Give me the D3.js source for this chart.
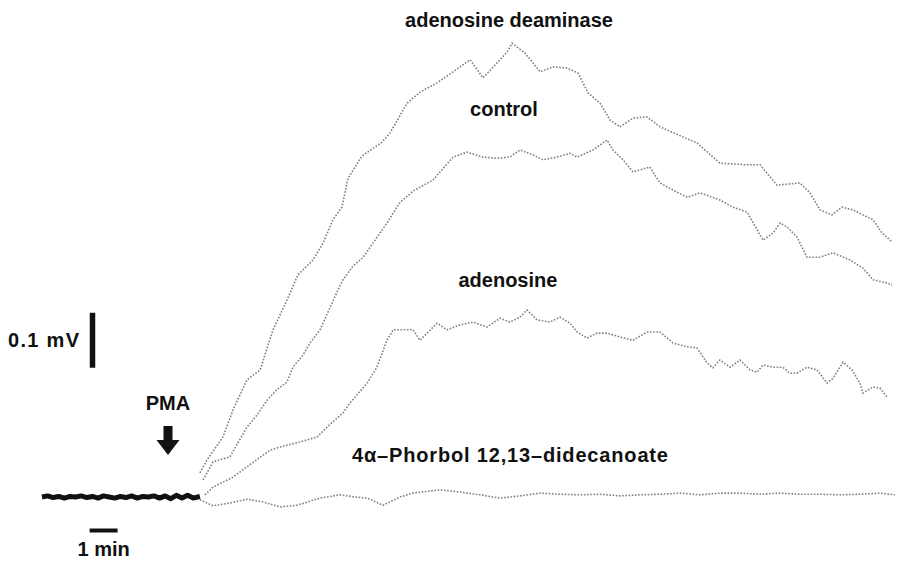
<!DOCTYPE html>
<html>
<head>
<meta charset="utf-8">
<script src="https://cdn.jsdelivr.net/npm/d3@7"></script>
<style>
  body { margin: 0; background: #fff; }
  svg { display: block; }
</style>
</head>
<body>
<script>
// time in min (0 = start of recording), response in mV above baseline
const baseline = [[0, 0], [0.2, 0.002], [0.4, -0.001], [0.6, 0.001], [0.8, -0.002], [1.0, 0.001], [1.2, 0],
  [1.4, 0.002], [1.6, -0.001], [1.8, 0.001], [2.0, -0.002], [2.2, 0.002], [2.4, 0], [2.6, -0.002], [2.8, 0.001],
  [3.0, -0.001], [3.2, 0.002], [3.4, -0.002], [3.6, 0.001], [3.8, 0], [4.0, 0.002], [4.2, -0.002], [4.4, 0.002],
  [4.6, -0.003], [4.8, 0.003], [5.0, -0.002], [5.2, 0.003], [5.4, -0.002], [5.64, 0.001]];

const deaminase = [[5.64, 0.044], [5.89, 0.067], [6.46, 0.109], [6.82, 0.158], [7.32, 0.213], [7.79, 0.231],
  [8.25, 0.304], [8.75, 0.358], [9.14, 0.404], [9.68, 0.431], [10.04, 0.462], [10.39, 0.504], [10.71, 0.527],
  [10.93, 0.58], [11.43, 0.62], [12.14, 0.645], [12.43, 0.662], [13.04, 0.716], [13.5, 0.736], [14.11, 0.753],
  [14.68, 0.773], [15.29, 0.795], [15.75, 0.762], [16.25, 0.789], [16.61, 0.809], [16.79, 0.825], [17.25, 0.807],
  [17.79, 0.773], [18.25, 0.782], [18.75, 0.78], [19.14, 0.771], [19.5, 0.735], [19.93, 0.716], [20.29, 0.685],
  [20.64, 0.673], [21.11, 0.689], [21.61, 0.691], [22.07, 0.673], [23.14, 0.649], [23.39, 0.644], [24.21, 0.607],
  [25.18, 0.604], [25.64, 0.604], [26.25, 0.567], [27.07, 0.571], [27.43, 0.553], [27.79, 0.522], [28.21, 0.513],
  [28.57, 0.527], [28.96, 0.522], [29.68, 0.504], [30.0, 0.48], [30.36, 0.464]];

const control = [[5.75, 0.031], [6.11, 0.064], [6.71, 0.073], [7.32, 0.127], [7.68, 0.149], [8.04, 0.176],
  [8.39, 0.195], [8.75, 0.209], [8.96, 0.236], [9.32, 0.258], [9.57, 0.28], [9.93, 0.304], [10.54, 0.373],
  [10.75, 0.395], [11.11, 0.42], [11.46, 0.435], [12.07, 0.48], [12.32, 0.498], [12.54, 0.516], [12.79, 0.536],
  [13.3, 0.558], [13.96, 0.576], [14.68, 0.618], [15.18, 0.627], [15.75, 0.618], [16.25, 0.616], [16.71, 0.618],
  [17.07, 0.631], [17.54, 0.622], [17.89, 0.613], [18.39, 0.618], [18.86, 0.625], [19.11, 0.618], [19.68, 0.631],
  [20.18, 0.649], [20.39, 0.631], [20.75, 0.613], [21.11, 0.591], [21.71, 0.6], [22.07, 0.571], [22.54, 0.558],
  [23.04, 0.545], [23.5, 0.553], [24.21, 0.54], [24.68, 0.527], [25.18, 0.518], [25.75, 0.467], [26.11, 0.48],
  [26.36, 0.498], [26.61, 0.491], [26.96, 0.473], [27.32, 0.436], [27.79, 0.436], [28.25, 0.444], [28.86, 0.431],
  [29.32, 0.416], [29.68, 0.395], [30.18, 0.389], [30.36, 0.385]];

const adenosine = [[5.82, 0.004], [6.11, 0.018], [6.82, 0.036], [7.32, 0.055], [8.14, 0.085], [8.5, 0.091],
  [9.21, 0.1], [9.82, 0.109], [10.18, 0.127], [10.75, 0.153], [11.0, 0.171], [11.61, 0.207], [11.96, 0.236],
  [12.32, 0.285], [12.54, 0.304], [13.25, 0.304], [13.5, 0.285], [14.11, 0.316], [14.46, 0.304], [14.93, 0.313],
  [15.39, 0.318], [15.89, 0.309], [16.36, 0.325], [16.71, 0.318], [17.07, 0.327], [17.32, 0.34], [17.68, 0.322],
  [18.14, 0.318], [18.5, 0.327], [18.86, 0.316], [19.11, 0.3], [19.46, 0.289], [19.82, 0.298], [20.18, 0.298],
  [20.64, 0.291], [21.11, 0.285], [21.61, 0.3], [22.07, 0.3], [22.54, 0.28], [23.04, 0.273], [23.39, 0.271],
  [23.75, 0.244], [23.96, 0.235], [24.21, 0.249], [24.57, 0.236], [24.93, 0.249], [25.29, 0.231], [25.54, 0.227],
  [25.75, 0.24], [26.11, 0.236], [26.46, 0.236], [26.71, 0.225], [26.96, 0.225], [27.32, 0.236], [27.68, 0.231],
  [28.04, 0.207], [28.25, 0.216], [28.61, 0.245], [28.93, 0.231], [29.21, 0.207], [29.32, 0.189], [29.68, 0.2],
  [29.93, 0.198], [30.18, 0.182]];

const phorbol = [[5.64, -0.005], [6.11, -0.016], [6.71, -0.011], [7.32, -0.004], [7.89, -0.009], [8.5, -0.018],
  [9.11, -0.015], [9.93, -0.002], [10.64, 0.004], [11.18, 0], [11.61, -0.002], [12.18, -0.015], [12.79, 0],
  [13.25, 0.007], [14.21, 0.013], [14.93, 0.009], [15.64, 0.004], [16.36, -0.002], [17.07, 0.002], [17.79, 0.007],
  [18.5, 0.005], [19.21, 0.004], [19.93, 0.005], [20.64, 0.002], [21.36, 0.004], [22.07, 0.005], [22.79, 0.007],
  [23.5, 0.004], [24.21, 0.007], [24.93, 0.007], [25.64, 0.005], [26.36, 0.007], [27.07, 0.005], [27.79, 0.005],
  [28.5, 0.004], [29.21, 0.005], [29.93, 0.007], [30.46, 0.004]];

const traces = [deaminase, control, adenosine, phorbol];
const labels = [
  {text: "adenosine deaminase", t: 16.68, v: 0.855, anchor: "middle"},
  {text: "control", t: 16.5, v: 0.693, anchor: "middle"},
  {text: "adenosine", t: 16.64, v: 0.382, anchor: "middle"},
  {text: "4α–Phorbol 12,13–didecanoate", t: 11.07, v: 0.064, anchor: "start", length: 316}
];
const pmaTime = 4.5;
const voltBar = [0.235, 0.335];   // 0.1 mV
const timeBar = [1.7, 2.7];       // 1 min

const width = 906, height = 569;
const x = d3.scaleLinear().domain([0, 30.5]).range([42, 896]);
const y = d3.scaleLinear().domain([0, 0.1]).range([497, 442]);

const svg = d3.select("body").append("svg")
    .attr("width", width)
    .attr("height", height)
    .attr("font-family", "'Liberation Sans', Arial, sans-serif")
    .attr("font-weight", "bold")
    .attr("font-size", 20);

const line = d3.line()
    .x(d => x(d[0]))
    .y(d => y(d[1]));

// speckled post-PMA traces
svg.append("g")
    .attr("fill", "none")
    .attr("stroke", "#808080")
    .attr("stroke-width", 1.6)
    .attr("stroke-dasharray", "1.6 1.6")
  .selectAll("path")
  .data(traces)
  .join("path")
    .attr("d", line);

// pre-PMA baseline, all four recordings on top of each other
svg.append("path")
    .datum(baseline)
    .attr("fill", "none")
    .attr("stroke", "#111")
    .attr("stroke-width", 5)
    .attr("stroke-linejoin", "round")
    .attr("d", line);

svg.append("g")
  .selectAll("text")
  .data(labels)
  .join("text")
    .attr("x", d => x(d.t))
    .attr("y", d => y(d.v))
    .attr("text-anchor", d => d.anchor)
    .attr("textLength", d => d.length || null)
    .attr("fill", "#111")
    .text(d => d.text);

// PMA arrow
const ax = x(pmaTime);
svg.append("text")
    .attr("x", ax)
    .attr("y", 410)
    .attr("text-anchor", "middle")
    .attr("fill", "#111")
    .text("PMA");
svg.append("path")
    .attr("fill", "#111")
    .attr("d", `M${ax - 4.5},426 H${ax + 4.5} V440 H${ax + 11.5} L${ax},455 L${ax - 11.5},440 H${ax - 4.5} Z`);

// scale bars
svg.append("line")
    .attr("x1", 92.5).attr("x2", 92.5)
    .attr("y1", y(voltBar[0])).attr("y2", y(voltBar[1]))
    .attr("stroke", "#111")
    .attr("stroke-width", 5.5);
svg.append("text")
    .attr("x", 8)
    .attr("y", 347)
    .attr("textLength", 71)
    .attr("fill", "#111")
    .text("0.1 mV");

svg.append("line")
    .attr("x1", x(timeBar[0])).attr("x2", x(timeBar[1]))
    .attr("y1", 530.5).attr("y2", 530.5)
    .attr("stroke", "#111")
    .attr("stroke-width", 4);
svg.append("text")
    .attr("x", x((timeBar[0] + timeBar[1]) / 2))
    .attr("y", 556)
    .attr("text-anchor", "middle")
    .attr("fill", "#111")
    .text("1 min");
</script>
</body>
</html>
